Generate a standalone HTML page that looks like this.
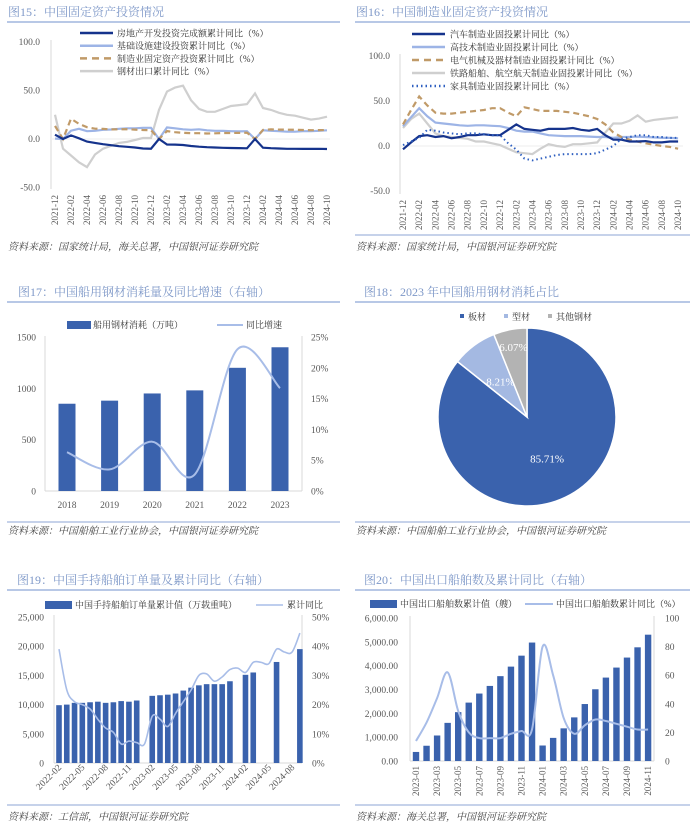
<!DOCTYPE html>
<html><head><meta charset="utf-8">
<style>
html,body{margin:0;padding:0;background:#fff;}
svg{display:block;font-family:"Liberation Serif","Noto Serif CJK SC",serif;}
.t{fill:#7e98c8;font-size:12px;}
.f{fill:#444;font-size:10px;font-style:italic;}
.ax{fill:#595959;font-size:9.5px;}
.lg{fill:#333;font-size:9px;}
</style></head>
<body>
<svg id="page" width="700" height="831" viewBox="0 0 700 831">
<text class="t" x="8" y="16">图15：中国固定资产投资情况</text>
<line x1="7" y1="22" x2="340" y2="22" stroke="#8ea6d6" stroke-width="1.2"/>
<text class="f" x="8" y="250">资料来源：国家统计局，海关总署，中国银河证券研究院</text>
<text class="t" x="356" y="16">图16：中国制造业固定资产投资情况</text>
<line x1="355" y1="22" x2="690" y2="22" stroke="#8ea6d6" stroke-width="1.2"/>
<line x1="355" y1="235" x2="690" y2="235" stroke="#8ea6d6" stroke-width="1"/>
<text class="f" x="356" y="250">资料来源：国家统计局，中国银河证券研究院</text>
<text class="t" x="18" y="296">图17：中国船用钢材消耗量及同比增速（右轴）</text>
<line x1="7" y1="302" x2="340" y2="302" stroke="#8ea6d6" stroke-width="1.2"/>
<line x1="7" y1="522" x2="340" y2="522" stroke="#8ea6d6" stroke-width="1"/>
<text class="f" x="8" y="534">资料来源：中国船舶工业行业协会，中国银河证券研究院</text>
<text class="t" x="364" y="296">图18：2023 年中国船用钢材消耗占比</text>
<line x1="355" y1="302" x2="690" y2="302" stroke="#8ea6d6" stroke-width="1.2"/>
<line x1="355" y1="522" x2="690" y2="522" stroke="#8ea6d6" stroke-width="1"/>
<text class="f" x="356" y="534">资料来源：中国船舶工业行业协会，中国银河证券研究院</text>
<text class="t" x="17" y="584">图19：中国手持船舶订单量及累计同比（右轴）</text>
<line x1="7" y1="590" x2="340" y2="590" stroke="#8ea6d6" stroke-width="1.2"/>
<line x1="7" y1="805" x2="340" y2="805" stroke="#8ea6d6" stroke-width="1"/>
<text class="f" x="8" y="820">资料来源：工信部，中国银河证券研究院</text>
<text class="t" x="364" y="584">图20：中国出口船舶数及累计同比（右轴）</text>
<line x1="355" y1="590" x2="690" y2="590" stroke="#8ea6d6" stroke-width="1.2"/>
<line x1="355" y1="805" x2="690" y2="805" stroke="#8ea6d6" stroke-width="1"/>
<text class="f" x="356" y="820">资料来源：海关总署，中国银河证券研究院</text>
</svg>
<script>
// ===== Chart 15 data =====
const c15Ticks = ['2021-12','2022-02','2022-04','2022-06','2022-08','2022-10','2022-12','2023-02','2023-04','2023-06','2023-08','2023-10','2023-12','2024-02','2024-04','2024-06','2024-08','2024-10'];
const c15YTicks = [100,50,0,-50];
const c15RealEstate = [4.4,0,3.7,0.7,-2.7,-4,-5.4,-6.4,-7.4,-8,-8.8,-9.8,-10,0,-5.7,-5.8,-6.2,-7.2,-7.9,-8.5,-8.8,-9.1,-9.3,-9.4,-9.6,0,-9,-9.5,-9.8,-10.1,-10.1,-10.2,-10.2,-10.1,-10.3];
const c15Infra = [0.4,0,8.6,10.5,8,8.5,9.5,9.8,10.5,11,11,11.5,11.5,0,12,11,10,9.5,10,9,8.5,8.3,8,7.8,8,0,9,8.5,8,7.5,7.5,8,8,8.5,9];
const c15Manu = [13.5,0,20.9,15.6,12.2,10.6,10.4,9.9,10,10.1,9.7,9.3,9.1,0,8.1,7,6.4,6,6,5.7,5.9,6.2,6.2,6.3,6.5,0,9.4,9.9,9.7,9.6,9.5,9.3,9.1,9.2,9.3];
const c15Steel = [25,-10,-17,-24,-29,-16,-10,-7,-4,-3,-1,1,1,30,49,53,55,40,31,28,28,31,34,35,36,47,32,30,27,25,24,22,20,21,23];
const c15Names = ['房地产开发投资完成额累计同比（%）','基础设施建设投资累计同比（%）','制造业固定资产投资累计同比（%）','钢材出口累计同比（%）'];
// ===== Chart 16 data =====
const c16Ticks = c15Ticks;
const c16YTicks = [100,50,0,-50];
const c16Auto = [-3.7,4,11,12,10,11,8.5,10,12,12,13,12,12,18,24,19,18,17,19,19,19,20,18,17,19,12,7,7,5,5,5.5,4,4,5,5];
const c16HighTech = [22,32,42,33,26,25,24,23,22.5,23,23,22.5,22,20,17,16,16,14,12,11.5,11,11,11,10.5,10,10,9,10,10,10.5,10,9.5,9,9,8.5];
const c16Elec = [24,40,55,45,37,36,36,37,38,39,40,42,42,37,33,43,41,39,39,39,38,37,35,33,30,24,15,10,7,5,3,1.5,0,-1,-3];
const c16Rail = [20,30,36,25,14,11,10,9,8,5,5,3,1,-3,-7,-8,-9,-3,2,0,-1,2,2,3,4,15,25,25,28,34,27,29,30,31,32];
const c16Furn = [1,5,9,18,17,15,14,13,14,14,13,12,12,3,-4,-14,-16,-14,-12,-10,-9,-9,-9,-9,-8,-4,0,8,10,12,12,10,10,9,9];
const c16Names = ['汽车制造业固投累计同比（%）','高技术制造业固投累计同比（%）','电气机械及器材制造业固投累计同比（%）','铁路船舶、航空航天制造业固投累计同比（%）','家具制造业固投累计同比（%）'];
// ===== Chart 17 data =====
const c17Years = ['2018','2019','2020','2021','2022','2023'];
const c17Steel = [850,880,950,980,1200,1400];
const c17Growth = [6.3,3.5,8,2.7,23,16.7];
const c17LTicks = [1500,1000,500,0];
const c17RTicks = [25,20,15,10,5,0];
// ===== Chart 18 data =====
const c18Labels = ['板材','型材','其他钢材'];
const c18Shares = [85.71,8.21,6.07];
// ===== Chart 19 data =====
const c19Months = ['2022-02','2022-03','2022-04','2022-05','2022-06','2022-07','2022-08','2022-09','2022-10','2022-11','2022-12','2023-01','2023-02','2023-03','2023-04','2023-05','2023-06','2023-07','2023-08','2023-09','2023-10','2023-11','2023-12','2024-01','2024-02','2024-03','2024-04','2024-05','2024-06','2024-07','2024-08','2024-09'];
const c19Orders = [9900,10000,10300,10300,10400,10500,10300,10400,10600,10500,10700,null,11500,11600,11700,11900,12400,12900,13300,13500,13500,13500,14000,null,15100,15500,null,null,17300,null,null,19500];
const c19Yoy = [39,25,21,20,18.5,15,12,10.5,6.5,7.5,7,6.5,16,15,12.5,17,21,25,30,30.5,28,29.5,32,32.5,31,34.5,34.5,34,39,38,38,44.5];
const c19LTicks = [25000,20000,15000,10000,5000,0];
const c19RTicks = [50,40,30,20,10,0];
// ===== Chart 20 data =====
const c20Months = ['2023-01','2023-02','2023-03','2023-04','2023-05','2023-06','2023-07','2023-08','2023-09','2023-10','2023-11','2023-12','2024-01','2024-02','2024-03','2024-04','2024-05','2024-06','2024-07','2024-08','2024-09','2024-10','2024-11'];
const c20Ships = [380,640,1070,1600,2050,2450,2830,3150,3560,3960,4420,4970,650,970,1370,1830,2390,3010,3500,3920,4340,4770,5300];
const c20Yoy = [14,27,44,62,35,20,16,16,16,19,21,22,80,60,30,19,25,29,28,26,24,22,22];
const c20LTicks = [6000,5000,4000,3000,2000,1000,0];
const c20RTicks = [100,80,60,40,20,0];

const NS='http://www.w3.org/2000/svg';
const svg=document.getElementById('page');
function mk(tag,attrs,txt){const e=document.createElementNS(NS,tag);for(const k in attrs)e.setAttribute(k,attrs[k]);if(txt!==undefined)e.textContent=txt;svg.appendChild(e);return e;}
function pathD(pts,smooth){
  if(!smooth)return pts.map((p,i)=>(i?'L':'M')+p[0].toFixed(1)+','+p[1].toFixed(1)).join('');
  let d='M'+pts[0][0]+','+pts[0][1];
  for(let i=0;i<pts.length-1;i++){const p0=pts[i-1]||pts[i],p1=pts[i],p2=pts[i+1],p3=pts[i+2]||p2;
    d+='C'+(p1[0]+(p2[0]-p0[0])/6).toFixed(1)+','+(p1[1]+(p2[1]-p0[1])/6).toFixed(1)+' '+(p2[0]-(p3[0]-p1[0])/6).toFixed(1)+','+(p2[1]-(p3[1]-p1[1])/6).toFixed(1)+' '+p2[0].toFixed(1)+','+p2[1].toFixed(1);}
  return d;}
function fmt(n){return n.toLocaleString('en-US');}

// ---------- Chart 15 ----------
(function(){
  const x=i=>55+i*8, y=v=>139-v*0.97;
  let e=mk('line',{x1:51,y1:40,x2:51,y2:189,stroke:'#d9d9d9'});
  
  
  e=mk('line',{x1:51,y1:y(0),x2:330,y2:y(0),stroke:'#eeeeee'});
  
  
  c15YTicks.forEach(v=>{const t=mk('text',{x:40,y:y(v)+3,'text-anchor':'end',class:'ax'},v.toFixed(1));
    
    });
  c15Ticks.forEach((s,k)=>{const xx=x(k*2)+3;const t=mk('text',{x:xx,y:195,'text-anchor':'end',class:'ax',transform:`rotate(-90 ${xx} 195)`,style:'font-size:9px'},s);
    
    });
  const ser=[[c15Steel,'#cfcfcf',2.2,''],[c15Infra,'#9db4e6',2.2,''],[c15Manu,'#c09a68',2.2,'6,4'],[c15RealEstate,'#15338c',2.2,'']];
  ser.forEach(s=>{const p=mk('path',{d:pathD(s[0].map((v,i)=>[x(i),y(v)]),false),fill:'none',stroke:s[1],'stroke-width':s[2],'stroke-dasharray':s[3]});
    
    });
  const lc=['#15338c','#9db4e6','#c09a68','#cfcfcf'];
  c15Names.forEach((n,i)=>{const yy=33+i*12.7;
    const l=mk('line',{x1:80,y1:yy,x2:113,y2:yy,stroke:lc[i],'stroke-width':2.5,'stroke-dasharray':i==2?'7,5':''});
    
    
    const t=mk('text',{x:117,y:yy+3.5,class:'lg'},n);
    
    });
})();

// ---------- Chart 16 ----------
(function(){
  const x=i=>403+i*8.09, y=v=>146-v*0.9;
  let e=mk('line',{x1:400,y1:54,x2:400,y2:194,stroke:'#d9d9d9'});
  
  
  e=mk('line',{x1:400,y1:y(0),x2:683,y2:y(0),stroke:'#eeeeee'});
  
  
  c16YTicks.forEach(v=>{const t=mk('text',{x:390,y:y(v)+3,'text-anchor':'end',class:'ax'},v.toFixed(1));
    
    });
  c16Ticks.forEach((s,k)=>{const xx=x(k*2)+3;const t=mk('text',{x:xx,y:200,'text-anchor':'end',class:'ax',transform:`rotate(-90 ${xx} 200)`,style:'font-size:9px'},s);
    
    });
  const ser=[[c16Rail,'#cfcfcf','',2.2],[c16HighTech,'#9db4e6','',2.2],[c16Elec,'#c09a68','6,4',2.2],[c16Auto,'#15338c','',2.2],[c16Furn,'#2e5fc0','1.5,3',2]];
  ser.forEach(s=>{const p=mk('path',{d:pathD(s[0].map((v,i)=>[x(i),y(v)]),false),fill:'none',stroke:s[1],'stroke-width':s[3],'stroke-dasharray':s[2]});
    
    });
  const lc=[['#15338c',''],['#9db4e6',''],['#c09a68','7,5'],['#cfcfcf',''],['#2e5fc0','1.5,3']];
  c16Names.forEach((n,i)=>{const yy=34+i*13;
    const l=mk('line',{x1:412,y1:yy,x2:445,y2:yy,stroke:lc[i][0],'stroke-width':2.5,'stroke-dasharray':lc[i][1]});
    
    
    const t=mk('text',{x:450,y:yy+3.5,class:'lg'},n);
    
    });
})();

// ---------- Chart 17 ----------
(function(){
  const x=i=>67+i*42.6, yL=v=>491-v*154/1500, yR=p=>491-p*154/25;
  [[45],[302]].forEach(a=>{const l=mk('line',{x1:a[0],y1:336,x2:a[0],y2:491,stroke:'#d9d9d9'});
    
    });
  let e=mk('line',{x1:45,y1:491,x2:302,y2:491,stroke:'#d9d9d9'});
  
  
  c17LTicks.forEach(v=>{const t=mk('text',{x:36,y:yL(v)+3.5,'text-anchor':'end',class:'ax'},String(v));
    
    });
  c17RTicks.forEach(v=>{const t=mk('text',{x:311,y:yR(v)+3.5,class:'ax'},v+'%');
    
    });
  c17Steel.forEach((v,i)=>{const r=mk('rect',{x:x(i)-8.5,y:yL(v),width:17,height:491-yL(v),fill:'#3a62ad'});
    
    });
  c17Years.forEach((s,i)=>{const t=mk('text',{x:x(i),y:508,'text-anchor':'middle',class:'ax'},s);
    
    });
  const p=mk('path',{d:pathD(c17Growth.map((v,i)=>[x(i),yR(v)]),true),fill:'none',stroke:'#a8bde8','stroke-width':2});
  
  
  let s=mk('rect',{x:67,y:321,width:24,height:8,fill:'#3a62ad'});
  
  
  s=mk('text',{x:93,y:328,class:'lg'},'船用钢材消耗（万吨）');
  
  
  s=mk('line',{x1:217,y1:325,x2:243,y2:325,stroke:'#a8bde8','stroke-width':2});
  
  
  s=mk('text',{x:246,y:328,class:'lg'},'同比增速');
  
  
})();

// ---------- Chart 18 ----------
(function(){
  const cx=527,cy=417,r=89,cols=['#3a62ad','#a4b9e2','#b3b3b3'],lr=[0.52,0.5,0.8];
  const tot=c18Shares.reduce((a,b)=>a+b,0);let a0=-Math.PI/2;
  c18Shares.forEach((v,i)=>{const a1=a0+v/tot*2*Math.PI;
    const d=`M${cx},${cy}L${cx+r*Math.cos(a0)},${cy+r*Math.sin(a0)}A${r},${r} 0 ${a1-a0>Math.PI?1:0} 1 ${cx+r*Math.cos(a1)},${cy+r*Math.sin(a1)}Z`;
    const p=mk('path',{d:d,fill:cols[i],stroke:'#fff','stroke-width':1.5});
    
    
    const am=(a0+a1)/2, rr=lr[i]*r;
    const t=mk('text',{x:cx+rr*Math.cos(am),y:cy+rr*Math.sin(am)+4,'text-anchor':'middle',fill:'#fff',style:'font-size:11px'},v.toFixed(2)+'%');
    
    
    a0=a1;});
  const lx=[460,504,548];
  c18Labels.forEach((n,i)=>{const s=mk('rect',{x:lx[i],y:314,width:4,height:4,fill:cols[i]});
    
    
    const t=mk('text',{x:lx[i]+8,y:320,class:'lg'},n);
    
    });
})();

// ---------- Chart 19 ----------
(function(){
  const x=i=>59+i*7.77, yL=v=>763-v*146/25000, yR=p=>763-p*146/50;
  [54,302].forEach(v=>{const l=mk('line',{x1:v,y1:615,x2:v,y2:763,stroke:'#d9d9d9'});
    
    });
  let e=mk('line',{x1:54,y1:763,x2:302,y2:763,stroke:'#d9d9d9'});
  
  
  c19LTicks.forEach(v=>{const t=mk('text',{x:44,y:yL(v)+3.5,'text-anchor':'end',class:'ax'},fmt(v));
    
    });
  c19RTicks.forEach(v=>{const t=mk('text',{x:312,y:yR(v)+3.5,class:'ax'},v+'%');
    
    });
  c19Orders.forEach((v,i)=>{if(v==null)return;const r=mk('rect',{x:x(i)-2.8,y:yL(v),width:5.6,height:763-yL(v),fill:'#3a62ad'});
    
    });
  c19Months.forEach((s,i)=>{if(i%3)return;const xx=x(i)+3,yy=768;const t=mk('text',{x:xx,y:yy,'text-anchor':'end',class:'ax',transform:`rotate(-45 ${xx} ${yy})`},s);
    
    });
  const p=mk('path',{d:pathD(c19Yoy.map((v,i)=>[x(i),yR(v)]),true),fill:'none',stroke:'#a8bde8','stroke-width':1.6});
  
  
  let s=mk('rect',{x:45,y:601,width:27,height:8,fill:'#3a62ad'});
  
  
  s=mk('text',{x:75,y:608,class:'lg'},'中国手持船舶订单量累计值（万载重吨）');
  
  
  s=mk('line',{x1:256,y1:605,x2:283,y2:605,stroke:'#a8bde8','stroke-width':1.6});
  
  
  s=mk('text',{x:287,y:608,class:'lg'},'累计同比');
  
  
})();

// ---------- Chart 20 ----------
(function(){
  const x=i=>416+i*10.55, yL=v=>761-v*143/6000, yR=p=>761-p*1.43;
  [410,654].forEach(v=>{const l=mk('line',{x1:v,y1:616,x2:v,y2:761,stroke:'#d9d9d9'});
    
    });
  let e=mk('line',{x1:410,y1:761,x2:654,y2:761,stroke:'#d9d9d9'});
  
  
  c20LTicks.forEach(v=>{const t=mk('text',{x:398,y:yL(v)+3.5,'text-anchor':'end',class:'ax'},fmt(v)+'.00');
    
    });
  c20RTicks.forEach(v=>{const t=mk('text',{x:665,y:yR(v)+3.5,class:'ax'},String(v));
    
    });
  c20Ships.forEach((v,i)=>{const r=mk('rect',{x:x(i)-3.2,y:yL(v),width:6.4,height:761-yL(v),fill:'#3a62ad'});
    
    });
  c20Months.forEach((s,i)=>{if(i%2)return;const xx=x(i)+3,yy=766;const t=mk('text',{x:xx,y:yy,'text-anchor':'end',class:'ax',transform:`rotate(-90 ${xx} ${yy})`,style:'font-size:9px'},s);
    
    });
  const p=mk('path',{d:pathD(c20Yoy.map((v,i)=>[x(i),yR(v)]),true),fill:'none',stroke:'#a8bde8','stroke-width':2});
  
  
  let s=mk('rect',{x:370,y:600,width:27,height:8,fill:'#3a62ad'});
  
  
  s=mk('text',{x:400,y:607,class:'lg'},'中国出口船舶数累计值（艘）');
  
  
  s=mk('line',{x1:525,y1:604,x2:553,y2:604,stroke:'#a8bde8','stroke-width':2});
  
  
  s=mk('text',{x:556,y:607,class:'lg'},'中国出口船舶数累计同比（%）');
  
  
})();
</script>
</body></html>
